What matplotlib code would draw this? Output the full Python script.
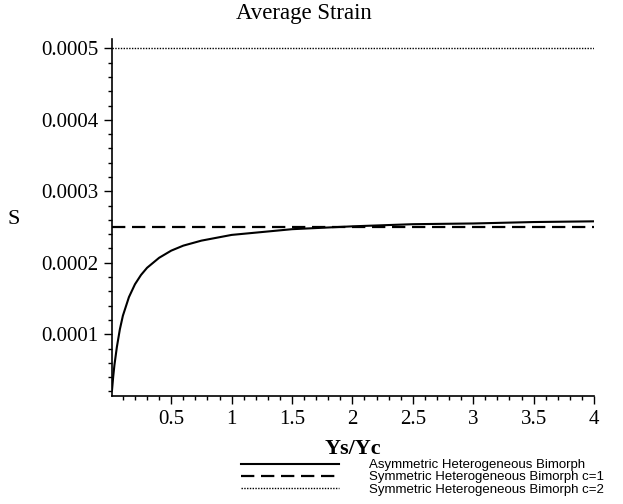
import matplotlib
matplotlib.use('Agg')
import matplotlib.pyplot as plt
from matplotlib.ticker import MultipleLocator

# Ys/Yc values
ratio = [0.01, 0.02, 0.03, 0.05, 0.075, 0.1, 0.15, 0.2, 0.25, 0.3, 0.4,
         0.5, 0.6, 0.75, 1.0, 1.25, 1.5, 2.0, 2.5, 3.0, 3.5, 4.0]
# average strain of the asymmetric bimorph
asym_strain = [0.22e-4, 0.41e-4, 0.57e-4, 0.82e-4, 1.07e-4, 1.26e-4, 1.52e-4,
               1.70e-4, 1.83e-4, 1.93e-4, 2.07e-4, 2.17e-4, 2.24e-4, 2.31e-4,
               2.39e-4, 2.43e-4, 2.47e-4, 2.51e-4, 2.54e-4, 2.55e-4, 2.57e-4,
               2.58e-4]
# symmetric bimorphs are constant
sym_c1 = 0.00025
sym_c2 = 0.0005

labels = ['Asymmetric Heterogeneous Bimorph',
          'Symmetric Heterogeneous Bimorph c=1',
          'Symmetric Heterogeneous Bimorph c=2']
xticks = [0.5, 1, 1.5, 2, 2.5, 3, 3.5, 4]
xticklabels = ['0.5', '1', '1.5', '2', '2.5', '3', '3.5', '4']
yticks = [0.0001, 0.0002, 0.0003, 0.0004, 0.0005]
yticklabels = ['0.0001', '0.0002', '0.0003', '0.0004', '0.0005']

fig = plt.figure(figsize=(6.23, 5.04), dpi=100)
ax = fig.add_axes([0.1798, 0.2133, 0.7737, 0.7093])

ends = [ratio[0], ratio[-1]]
l1, = ax.plot(ratio, asym_strain, color='black', lw=1.5)
l2, = ax.plot(ends, [sym_c1, sym_c1], color='black', lw=1.6, dashes=(6, 3))
l3, = ax.plot(ends, [sym_c2, sym_c2], color='black', lw=1.0, dashes=(1, 1))

ax.set_xlim(0.01, 4.0)
ax.set_ylim(0.000013, 0.000513)

for side in ['top', 'right']:
    ax.spines[side].set_visible(False)
ax.spines['left'].set_linewidth(1.2)
ax.spines['bottom'].set_linewidth(1.2)

serif = 'Liberation Serif'
ax.set_xticks(xticks)
ax.set_xticklabels(xticklabels, fontfamily=serif, fontsize=15)
ax.set_yticks(yticks)
ax.set_yticklabels(yticklabels, fontfamily=serif, fontsize=15)
ax.xaxis.set_minor_locator(MultipleLocator(0.1))
ax.yaxis.set_minor_locator(MultipleLocator(0.00002))
ax.tick_params(which='major', direction='out', length=6, width=1, pad=4)
ax.tick_params(which='minor', direction='out', length=3, width=1)

ax.set_xlabel('Ys/Yc', fontfamily=serif, fontsize=16, fontweight='bold')
ax.xaxis.set_label_coords(0.5, -0.146)
ax.xaxis.label.set_va('center')
ax.set_ylabel('S', fontfamily=serif, fontsize=16, rotation=0)
ax.yaxis.set_label_coords(-0.203, 0.496)
ax.yaxis.label.set_va('center')

fig.text(304 / 623, 1 - 13 / 504, 'Average Strain', fontfamily=serif,
         fontsize=16.5, ha='center', va='center')

# compact legend below the x label
fig.legend([l1, l2, l3], labels, loc='upper left',
           bbox_to_anchor=(241 / 623, 1 - 459 / 504), frameon=False,
           borderpad=0, borderaxespad=0, handlelength=7.4, handletextpad=2.3,
           labelspacing=0.0, prop={'family': 'Liberation Sans', 'size': 9.5})

fig.savefig('out.png', dpi=100)
